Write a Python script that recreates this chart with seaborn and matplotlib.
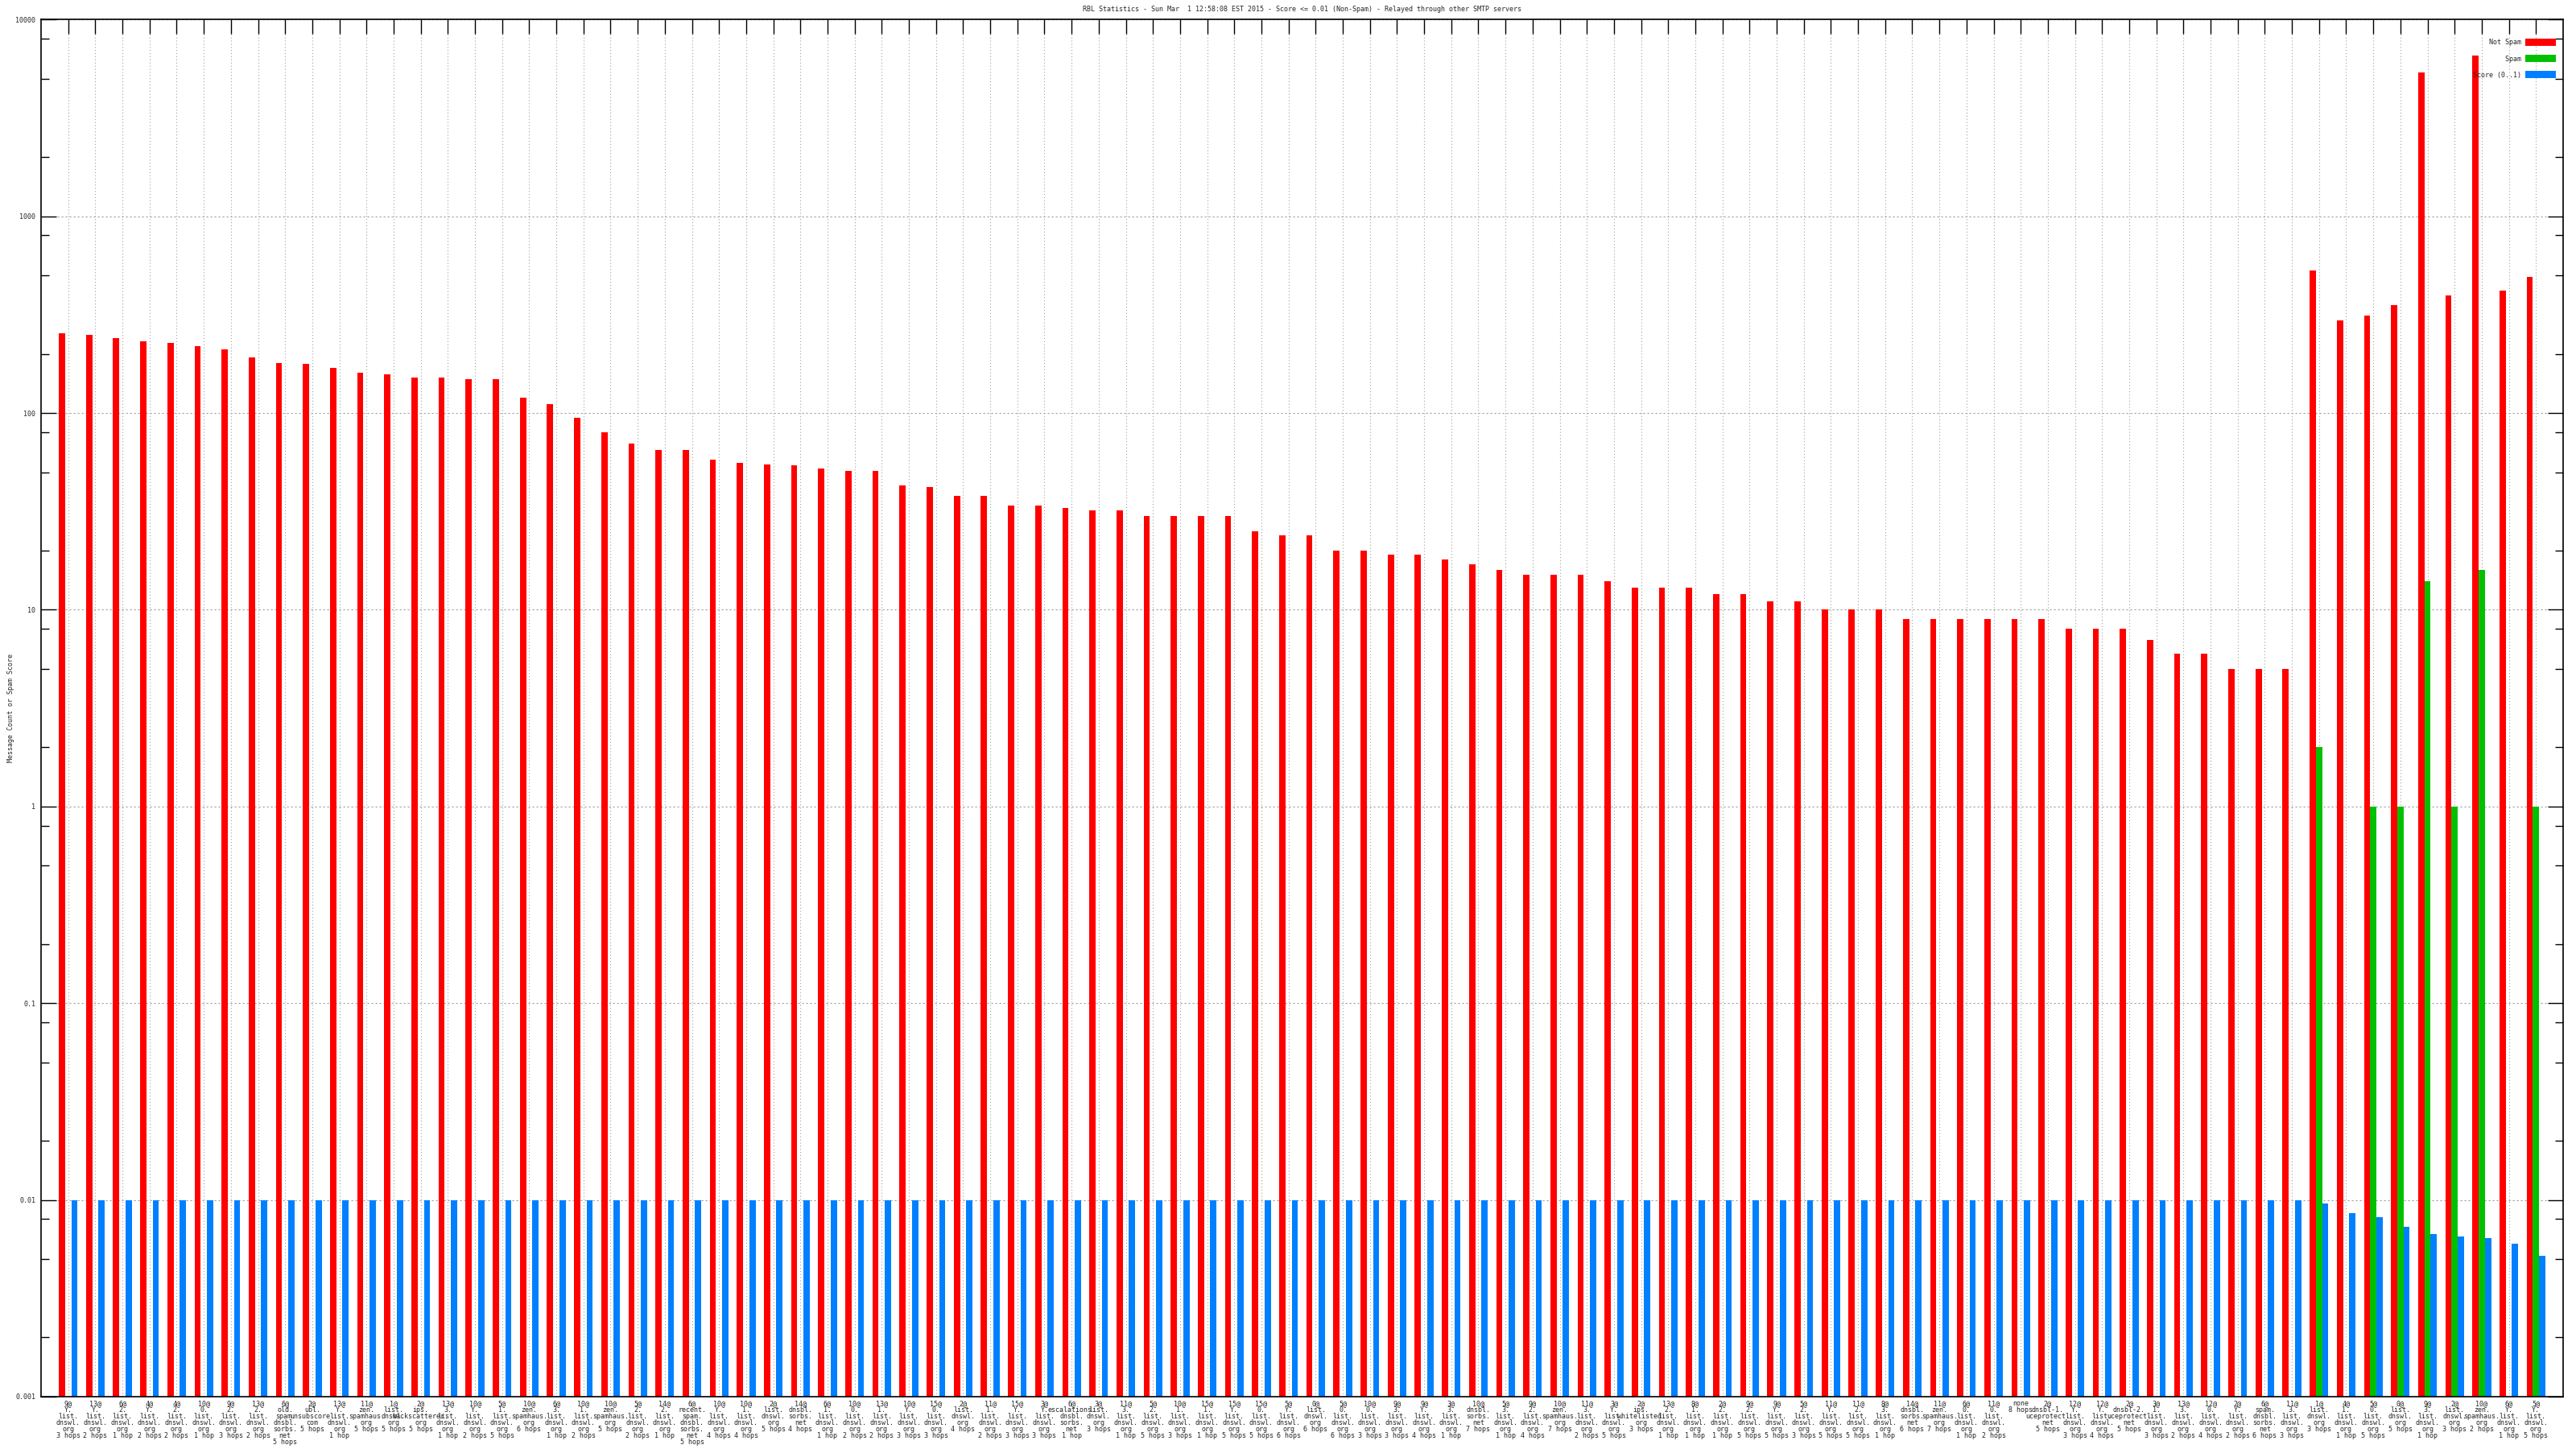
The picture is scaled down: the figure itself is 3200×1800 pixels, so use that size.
import numpy as np
import pandas as pd
import seaborn as sns
import matplotlib.pyplot as plt
from matplotlib.patches import Patch
from matplotlib.ticker import FixedLocator, FixedFormatter, LogLocator, NullFormatter

TITLE = 'RBL Statistics - Sun Mar  1 12:58:08 EST 2015 - Score <= 0.01 (Non-Spam) - Relayed through other SMTP servers'

labels = [
    "9@\nY.\nlist.\ndnswl.\norg\n3 hops", "13@\nY.\nlist.\ndnswl.\norg\n2 hops",
    "6@\n2.\nlist.\ndnswl.\norg\n1 hop", "4@\nY.\nlist.\ndnswl.\norg\n2 hops",
    "4@\n2.\nlist.\ndnswl.\norg\n2 hops", "10@\n0.\nlist.\ndnswl.\norg\n1 hop",
    "9@\n2.\nlist.\ndnswl.\norg\n3 hops", "13@\n2.\nlist.\ndnswl.\norg\n2 hops",
    "6@\nold.\nspam.\ndnsbl.\nsorbs.\nnet\n5 hops", "2@\nubl.\nunsubscore.\ncom\n5 hops",
    "13@\nY.\nlist.\ndnswl.\norg\n1 hop", "11@\nzen.\nspamhaus.\norg\n5 hops",
    "1@\nlist.\ndnswl.\norg\n5 hops", "2@\nips.\nbackscatterer.\norg\n5 hops",
    "13@\n3.\nlist.\ndnswl.\norg\n1 hop", "10@\nY.\nlist.\ndnswl.\norg\n2 hops",
    "5@\n1.\nlist.\ndnswl.\norg\n5 hops", "10@\nzen.\nspamhaus.\norg\n6 hops",
    "6@\n3.\nlist.\ndnswl.\norg\n1 hop", "10@\n1.\nlist.\ndnswl.\norg\n2 hops",
    "10@\nzen.\nspamhaus.\norg\n5 hops", "5@\n2.\nlist.\ndnswl.\norg\n2 hops",
    "14@\n2.\nlist.\ndnswl.\norg\n1 hop", "6@\nrecent.\nspam.\ndnsbl.\nsorbs.\nnet\n5 hops",
    "10@\nY.\nlist.\ndnswl.\norg\n4 hops", "10@\n1.\nlist.\ndnswl.\norg\n4 hops",
    "2@\nlist.\ndnswl.\norg\n5 hops", "14@\ndnsbl.\nsorbs.\nnet\n4 hops",
    "6@\n1.\nlist.\ndnswl.\norg\n1 hop", "10@\n0.\nlist.\ndnswl.\norg\n2 hops",
    "13@\n1.\nlist.\ndnswl.\norg\n2 hops", "10@\nY.\nlist.\ndnswl.\norg\n3 hops",
    "15@\n0.\nlist.\ndnswl.\norg\n3 hops", "2@\nlist.\ndnswl.\norg\n4 hops",
    "11@\n1.\nlist.\ndnswl.\norg\n2 hops", "15@\nY.\nlist.\ndnswl.\norg\n3 hops",
    "3@\nY.\nlist.\ndnswl.\norg\n3 hops", "6@\nescalations.\ndnsbl.\nsorbs.\nnet\n1 hop",
    "3@\nlist.\ndnswl.\norg\n3 hops", "11@\n3.\nlist.\ndnswl.\norg\n1 hop",
    "5@\n2.\nlist.\ndnswl.\norg\n5 hops", "10@\n1.\nlist.\ndnswl.\norg\n3 hops",
    "15@\n1.\nlist.\ndnswl.\norg\n1 hop", "15@\nY.\nlist.\ndnswl.\norg\n5 hops",
    "15@\n0.\nlist.\ndnswl.\norg\n5 hops", "5@\nY.\nlist.\ndnswl.\norg\n6 hops",
    "0@\nlist.\ndnswl.\norg\n6 hops", "5@\n0.\nlist.\ndnswl.\norg\n6 hops",
    "10@\n0.\nlist.\ndnswl.\norg\n3 hops", "9@\n3.\nlist.\ndnswl.\norg\n3 hops",
    "9@\nY.\nlist.\ndnswl.\norg\n4 hops", "3@\n3.\nlist.\ndnswl.\norg\n1 hop",
    "10@\ndnsbl.\nsorbs.\nnet\n7 hops", "5@\n3.\nlist.\ndnswl.\norg\n1 hop",
    "9@\n2.\nlist.\ndnswl.\norg\n4 hops", "10@\nzen.\nspamhaus.\norg\n7 hops",
    "11@\n3.\nlist.\ndnswl.\norg\n2 hops", "3@\nY.\nlist.\ndnswl.\norg\n5 hops",
    "2@\nips.\nwhitelisted.\norg\n3 hops", "13@\n2.\nlist.\ndnswl.\norg\n1 hop",
    "8@\n1.\nlist.\ndnswl.\norg\n1 hop", "2@\n2.\nlist.\ndnswl.\norg\n1 hop",
    "9@\n2.\nlist.\ndnswl.\norg\n5 hops", "9@\nY.\nlist.\ndnswl.\norg\n5 hops",
    "5@\n2.\nlist.\ndnswl.\norg\n3 hops", "11@\nY.\nlist.\ndnswl.\norg\n5 hops",
    "11@\n2.\nlist.\ndnswl.\norg\n5 hops", "8@\n3.\nlist.\ndnswl.\norg\n1 hop",
    "14@\ndnsbl.\nsorbs.\nnet\n6 hops", "11@\nzen.\nspamhaus.\norg\n7 hops",
    "6@\n0.\nlist.\ndnswl.\norg\n1 hop", "11@\n0.\nlist.\ndnswl.\norg\n2 hops",
    "none\n8 hops", "2@\ndnsbl-1.\nuceprotect.\nnet\n5 hops",
    "12@\nY.\nlist.\ndnswl.\norg\n3 hops", "12@\nY.\nlist.\ndnswl.\norg\n4 hops",
    "2@\ndnsbl-2.\nuceprotect.\nnet\n5 hops", "3@\n1.\nlist.\ndnswl.\norg\n3 hops",
    "13@\n3.\nlist.\ndnswl.\norg\n2 hops", "12@\n0.\nlist.\ndnswl.\norg\n4 hops",
    "2@\nY.\nlist.\ndnswl.\norg\n2 hops", "6@\nspam.\ndnsbl.\nsorbs.\nnet\n6 hops",
    "11@\n3.\nlist.\ndnswl.\norg\n3 hops", "1@\nlist.\ndnswl.\norg\n3 hops",
    "4@\n1.\nlist.\ndnswl.\norg\n1 hop", "5@\n0.\nlist.\ndnswl.\norg\n5 hops",
    "0@\nlist.\ndnswl.\norg\n5 hops", "9@\n3.\nlist.\ndnswl.\norg\n1 hop",
    "2@\nlist.\ndnswl.\norg\n3 hops", "10@\nzen.\nspamhaus.\norg\n2 hops",
    "6@\nY.\nlist.\ndnswl.\norg\n1 hop", "5@\nY.\nlist.\ndnswl.\norg\n5 hops",
]

not_spam = [255, 250, 240, 231, 227, 218, 210, 191, 180, 177,
            170, 160, 157, 151, 151, 149, 149, 120, 111, 95,
            80, 70, 65, 65, 58, 56, 55, 54, 52, 51,
            51, 43, 42, 38, 38, 34, 34, 33, 32, 32,
            30, 30, 30, 30, 25, 24, 24, 20, 20, 19,
            19, 18, 17, 16, 15, 15, 15, 14, 13, 13,
            13, 12, 12, 11, 11, 10, 10, 10, 9, 9,
            9, 9, 9, 9, 8, 8, 8, 7, 6, 6,
            5, 5, 5, 528, 297, 314, 353, 5410, 396, 6550,
            420, 490]

# spam counts only exist for the last few hosts
spam = [np.nan] * 83 + [2, np.nan, 1, 1, 14, 1, 16, np.nan, 1]

score = [0.01] * 83 + [0.0096, 0.0086, 0.0082, 0.0073, 0.0067, 0.0065, 0.0064, 0.006, 0.0052]

series = ['Not Spam', 'Spam', 'Score (0..1)']
colors = ['#ff0000', '#00c000', '#0080ff']

n = len(labels)
df = pd.DataFrame({
    'idx': list(range(n)) * 3,
    'series': [series[0]] * n + [series[1]] * n + [series[2]] * n,
    'value': not_spam + spam + score,
})

sns.set_theme(style='white')
plt.rcParams['font.family'] = ['DejaVu Sans Mono']
fs = 3.0

fig = plt.figure(figsize=(16, 9), dpi=200)
ax = fig.add_axes([51 / 3200, 1 - 1735 / 1800, (3184 - 51) / 3200, (1735 - 24.3) / 1800])
ax.set_yscale('log')

sns.barplot(data=df, x='idx', y='value', hue='series', hue_order=series,
            palette=colors, order=list(range(n)), width=0.69, saturation=1,
            errorbar=None, legend=False, ax=ax, zorder=2,
            linewidth=0, edgecolor='none')

ax.set_xlim(-1, n)
ax.set_ylim(0.001, 10000)

# y ticks like gnuplot
yt = [0.001, 0.01, 0.1, 1, 10, 100, 1000, 10000]
ax.yaxis.set_major_locator(FixedLocator(yt))
ax.yaxis.set_major_formatter(FixedFormatter(['0.001', '0.01', '0.1', '1', '10', '100', '1000', '10000']))
ax.yaxis.set_minor_locator(LogLocator(base=10, subs=[2, 5, 8], numticks=50))
ax.yaxis.set_minor_formatter(NullFormatter())
ax.tick_params(axis='y', which='major', direction='in', left=True, right=True,
               length=6.7, width=0.5, color='black', labelsize=fs, pad=2.5)
ax.tick_params(axis='y', which='minor', direction='in', left=True, right=True,
               length=3.5, width=0.5, color='black')

ax.set_xticks(range(n))
ax.set_xticklabels(labels, fontsize=fs, linespacing=0.85)
ax.xaxis.set_tick_params(which='major', bottom=False, top=True, labelbottom=True,
                         direction='in', length=6.6, width=0.5, color='black', pad=1.5)

for s in ax.spines.values():
    s.set_visible(True)
    s.set_color('black')
    s.set_linewidth(0.6)

ax.set_axisbelow(True)
ax.grid(axis='x', which='major', color='#a0a0a0', linestyle=(0, (1, 2.5)), linewidth=0.4)
ax.grid(axis='y', which='major', color='#a0a0a0', linestyle=(0, (2, 2.5)), linewidth=0.4)

ax.set_xlabel('')
ax.set_ylabel('Message Count or Spam Score', fontsize=fs)
ax.yaxis.set_label_coords(-0.0105, 0.5)

fig.text(1617 / 3200, 1 - 12 / 1800, TITLE, ha='center', va='center', fontsize=fs)

handles = [Patch(facecolor=c, edgecolor='none') for c in colors]
leg_labels = [s.rjust(12) for s in series]
ax.legend(handles, leg_labels, loc='upper right', bbox_to_anchor=(0.9971, 0.9861),
          frameon=False, markerfirst=False, handlelength=4.6, handleheight=1.3,
          labelspacing=1.3, borderaxespad=0, borderpad=0, fontsize=fs, handletextpad=0.6)

fig.savefig('out.png', dpi=200, facecolor='white')
